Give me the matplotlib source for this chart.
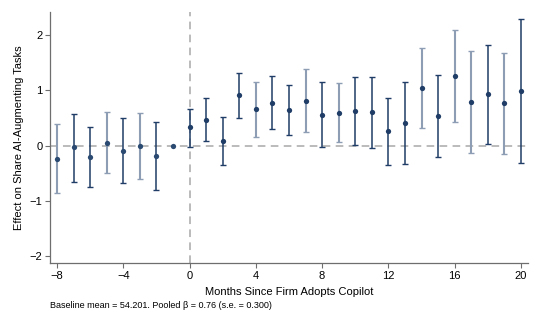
import matplotlib

matplotlib.use("Agg")
import matplotlib.pyplot as plt
import numpy as np

plt.rcParams["font.family"] = ["Liberation Sans", "DejaVu Sans"]

# --- Event-study estimates ---------------------------------------------------
months = list(range(-8, 21))
coef = [-0.24, -0.03, -0.20, 0.05, -0.09, 0.00, -0.19, 0.00,
        0.33, 0.47, 0.09, 0.91, 0.66, 0.78, 0.64, 0.81, 0.56, 0.59,
        0.63, 0.61, 0.27, 0.41, 1.04, 0.53, 1.26, 0.80, 0.93, 0.77, 0.99]
ci_hi = [0.39, 0.58, 0.34, 0.61, 0.50, 0.60, 0.43, 0.00,
         0.67, 0.87, 0.52, 1.32, 1.16, 1.27, 1.09, 1.38, 1.15, 1.13,
         1.24, 1.25, 0.87, 1.15, 1.76, 1.28, 2.10, 1.72, 1.82, 1.67, 2.30]
ci_lo = [-0.86, -0.65, -0.75, -0.50, -0.68, -0.60, -0.81, 0.00,
         -0.03, 0.08, -0.35, 0.51, 0.16, 0.30, 0.20, 0.25, -0.02, 0.06,
         0.02, -0.04, -0.34, -0.33, 0.32, -0.21, 0.43, -0.13, 0.04, -0.15, -0.32]
# shading of each interval (1 = dark, 0 = light)
dark = [0, 1, 1, 0, 1, 0, 1, 1,
        1, 1, 1, 1, 0, 1, 1, 0, 1, 0,
        1, 1, 1, 1, 0, 1, 0, 0, 1, 0, 1]

xticks = [-8, -4, 0, 4, 8, 12, 16, 20]
yticks = [-2, -1, 0, 1, 2]
note = "Baseline mean = 54.201. Pooled \u03b2 = 0.76 (s.e. = 0.300)"

DARK = "#1f3d66"
LIGHT = "#8d9db4"
AXIS = "#6e6e6e"

fig = plt.figure(figsize=(5.4, 3.24), dpi=100)
ax = fig.add_axes([0.0926, 0.187, 0.885, 0.776])

ax.axhline(0, color="#a8a8a8", lw=1.1, ls=(0, (5, 3.5)), zorder=1)
ax.axvline(0, color="#a8a8a8", lw=1.1, ls=(0, (5, 3.5)), zorder=1)

for m, c, lo, hi, d in zip(months, coef, ci_lo, ci_hi, dark):
    col = DARK if d else LIGHT
    if hi != lo:
        ax.errorbar([m], [c], yerr=[[c - lo], [hi - c]], fmt="none",
                    ecolor=col, elinewidth=1.1 if d else 1.5,
                    capsize=2.2, capthick=1.0, zorder=2)
    ax.plot([m], [c], "o", ms=3.8, color="#2b4a72" if m < 0 else DARK,
            mec="none", zorder=3)

ax.set_xlim(-8.42, 20.42)
ax.set_ylim(-2.13, 2.42)
ax.set_xticks(xticks)
ax.set_yticks(yticks)
ax.tick_params(labelsize=8, length=3.5, width=0.8, color=AXIS, pad=2)

for side in ("top", "right"):
    ax.spines[side].set_visible(False)
for side in ("left", "bottom"):
    ax.spines[side].set_color(AXIS)
    ax.spines[side].set_linewidth(0.9)

ax.set_xlabel("Months Since Firm Adopts Copilot", fontsize=8, labelpad=4)
ax.set_ylabel("Effect on Share AI-Augmenting Tasks", fontsize=8, labelpad=4)

fig.text(0.093, 0.058, note, fontsize=6.5, ha="left", va="center")

fig.savefig("out.png", dpi=100)
